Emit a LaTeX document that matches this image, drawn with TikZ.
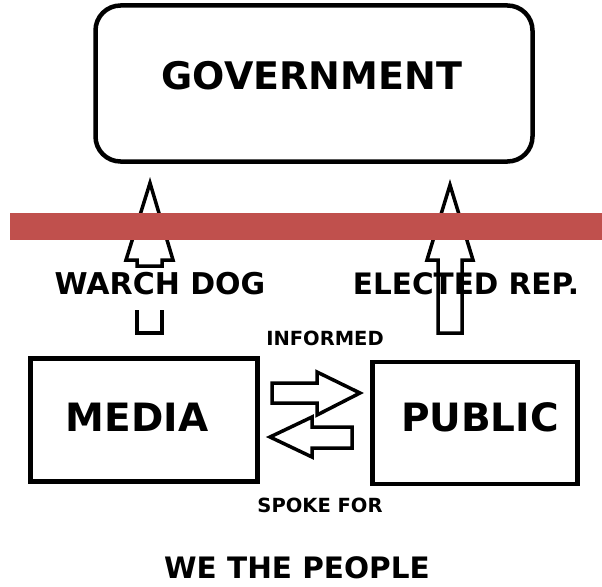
\documentclass[tikz,border=0pt]{standalone}
\usepackage{fontspec}
\setmainfont{DejaVu Sans}
\definecolor{barred}{RGB}{192,80,77}
\begin{document}
\begin{tikzpicture}[x=1pt,y=-1pt,
  box/.style={draw=black,line width=4.5pt,inner sep=0pt},
  bigtxt/.style={font=\fontsize{38}{40}\selectfont\bfseries,inner sep=0pt},
  lbl/.style={font=\bfseries\fontsize{30}{32}\selectfont,inner sep=0pt},
  smalllbl/.style={font=\bfseries\fontsize{19.5}{21}\selectfont,inner sep=0pt},
  fatarrow/.style={draw=black,line width=3.5pt,line join=miter,fill=white}]
\useasboundingbox (0,0) rectangle (602,586);
% Government
\node[box,rounded corners=25pt,minimum width=437pt,minimum height=156pt] (gov) at (314,83.5) {};
\node[bigtxt] (govt) at (312,76) {GOVERNMENT};
% Media and Public
\node[box,minimum width=227pt,minimum height=123pt] (media) at (144,420) {};
\node[bigtxt,font=\fontsize{39}{41}\selectfont\bfseries] (mediat) at (137,417) {MEDIA};
\node[box,minimum width=205pt,minimum height=122pt] (public) at (475,423) {};
\node[bigtxt,font=\fontsize{39}{41}\selectfont\bfseries] (publict) at (480,417) {PUBLIC};
% left vertical arrow
\draw[fatarrow] (150,183) -- (173,260) -- (162,260) -- (162,266) -- (137,266) -- (137,260) -- (126,260) -- cycle;
\draw[black,line width=3.5pt] (137,310) -- (137,333) -- (162,333) -- (162,310);
% right vertical arrow
\draw[fatarrow] (450,185) -- (473,260) -- (462,260) -- (462,333) -- (438,333) -- (438,260) -- (427,260) -- cycle;
% red bar
\fill[barred] (10,213) rectangle (602,240);
% labels
\node[lbl] (watch) at (160,284) {WARCH DOG};
\node[lbl,font=\bfseries\fontsize{29.5}{31}\selectfont] (elected) at (466,284) {ELECTED REP.};
% horizontal arrows
\draw[fatarrow] (272,383) -- (317,383) -- (317,372) -- (360,393) -- (317,415) -- (317,403) -- (272,403) -- cycle;
\draw[fatarrow] (352,427) -- (312,427) -- (312,417) -- (270,437) -- (312,457) -- (312,448) -- (352,448) -- cycle;
\node[smalllbl] (informed) at (325,338) {INFORMED};
\node[smalllbl] (spoke) at (320,505) {SPOKE FOR};
\node[lbl,font=\bfseries\fontsize{29.5}{31}\selectfont] (people) at (297,568) {WE THE PEOPLE};
\end{tikzpicture}
\end{document}
